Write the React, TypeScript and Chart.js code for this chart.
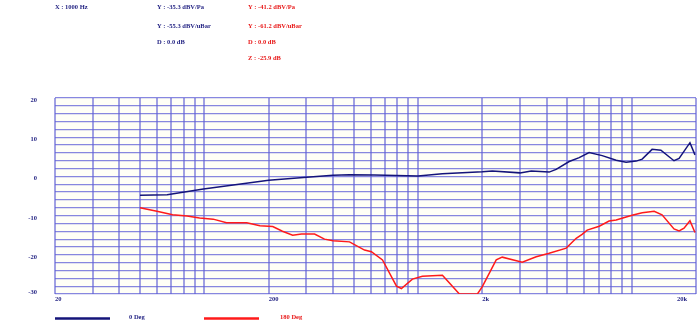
import { useEffect, useRef } from 'react';
import { Chart, registerables } from 'chart.js';

Chart.register(...registerables);

// ---- data ----
const freq0Deg = [50, 67, 99, 200, 301, 400, 478, 626, 1000, 1300, 2000, 2226, 3000, 3390, 4110, 4430, 5100, 5680, 6320, 7280, 8460, 9420, 10490, 11200, 12460, 13700, 15780, 16670, 18740, 19780];
const level0Deg = [-4.8, -4.7, -3.2, -1.0, -0.2, 0.3, 0.45, 0.35, 0.1, 0.7, 1.2, 1.4, 0.9, 1.4, 1.1, 1.8, 3.8, 4.8, 6.1, 5.3, 4.1, 3.6, 3.9, 4.4, 6.9, 6.7, 4.0, 4.6, 8.6, 5.5];

const freq180Deg = [50, 54, 60, 71, 83, 95, 110, 127, 158, 182, 209, 232, 259, 285, 328, 365, 400, 478, 562, 605, 682, 793, 836, 941, 1048, 1301, 1562, 1897, 2000, 2323, 2478, 3075, 3574, 4110, 4940, 5500, 5860, 6190, 7050, 7840, 8460, 10040, 11200, 12740, 13870, 15780, 16670, 17580, 18740, 19780];
const level180Deg = [-8.0, -8.4, -8.9, -9.8, -10.1, -10.6, -10.9, -11.8, -11.8, -12.6, -12.8, -14.0, -15.0, -14.7, -14.7, -16.0, -16.4, -16.7, -18.8, -19.2, -21.3, -28.0, -28.6, -26.2, -25.5, -25.2, -30, -30, -28.1, -21.3, -20.6, -21.9, -20.5, -19.6, -18.3, -15.8, -14.8, -13.7, -12.7, -11.4, -11.1, -9.9, -9.3, -8.9, -9.8, -13.4, -13.9, -13.2, -11.3, -14.3];

const xGridValues = [20, 30, 40, 50, 60, 70, 80, 90, 100, 200, 300, 400, 500, 600, 700, 800, 900, 1000, 2000, 3000, 4000, 5000, 6000, 7000, 8000, 9000, 10000, 20000];
const xTickValues = [20, 200, 2000, 20000];
const xTickLabels = ['20', '200', '2k', '20k'];
const yTickValues = [20, 10, 0, -10, -20, -30];

const seriesNames = ['0 Deg', '180 Deg'];
const readoutX = 'X : 1000 Hz';
const readout0Deg = ['Y : -35.3 dBV/Pa', 'Y : -55.3 dBV/uBar', 'D : 0.0 dB'];
const readout180Deg = ['Y : -41.2 dBV/Pa', 'Y : -61.2 dBV/uBar', 'D : 0.0 dB', 'Z : -25.9 dB'];

// ---- styles ----
const NAVY = '#14147a';
const RED = '#ff1a1a';
const TEXT_BLUE = '#1e1e80';
const TEXT_RED = '#e81818';
const FONT = 'bold 6.5px "Liberation Serif", "DejaVu Serif", serif';

const overlayPlugin = {
  id: 'overlay',
  beforeDraw(chart: any) {
    const { ctx, chartArea: a } = chart;
    ctx.save();
    ctx.fillStyle = '#fffff6';
    ctx.fillRect(a.left, a.top, a.right - a.left, a.bottom - a.top);
    ctx.restore();
  },
  afterDraw(chart: any) {
    const { ctx, chartArea: a } = chart;
    const xs = chart.scales.x;
    const ys = chart.scales.y;
    ctx.save();
    ctx.font = FONT;
    ctx.textBaseline = 'middle';

    // y labels
    ctx.fillStyle = TEXT_BLUE;
    ctx.textAlign = 'right';
    yTickValues.forEach((v) => {
      let y = ys.getPixelForValue(v);
      y += v === ys.min ? -2 : 2.3;
      ctx.fillText(String(v), a.left - 18, y);
    });

    // x labels
    ctx.textAlign = 'left';
    xTickValues.forEach((v, i) => {
      const label = xTickLabels[i];
      let x = xs.getPixelForValue(v);
      const w = ctx.measureText(label).width;
      if (i === xTickValues.length - 1) x = a.right - w - 9;
      ctx.fillText(label, x, a.bottom + 5);
    });

    // readouts
    ctx.fillStyle = TEXT_BLUE;
    ctx.fillText(readoutX, 55, 7);
    const rowsY = [7, 26, 42.5, 58.5];
    readout0Deg.forEach((t, i) => ctx.fillText(t, 157, rowsY[i]));
    ctx.fillStyle = TEXT_RED;
    readout180Deg.forEach((t, i) => ctx.fillText(t, 248, rowsY[i]));

    // legend
    const ly = 318.5;
    ctx.lineWidth = 2.5;
    ctx.strokeStyle = NAVY;
    ctx.beginPath();
    ctx.moveTo(55, ly);
    ctx.lineTo(110, ly);
    ctx.stroke();
    ctx.fillStyle = TEXT_BLUE;
    ctx.fillText(seriesNames[0], 129, ly - 1);
    ctx.strokeStyle = RED;
    ctx.beginPath();
    ctx.moveTo(204, ly);
    ctx.lineTo(259, ly);
    ctx.stroke();
    ctx.fillStyle = TEXT_RED;
    ctx.fillText(seriesNames[1], 280, ly - 1);
    ctx.restore();
  },
};

export default function App() {
  const canvasRef = useRef<HTMLCanvasElement | null>(null);

  useEffect(() => {
    if (!canvasRef.current) return;
    const chart = new Chart(canvasRef.current, {
      type: 'line',
      data: {
        datasets: [
          {
            label: seriesNames[0],
            data: freq0Deg.map((f, i) => ({ x: f, y: level0Deg[i] })),
            borderColor: NAVY,
            borderWidth: 1.5,
            pointRadius: 0,
            tension: 0,
            fill: false,
          },
          {
            label: seriesNames[1],
            data: freq180Deg.map((f, i) => ({ x: f, y: level180Deg[i] })),
            borderColor: RED,
            borderWidth: 1.5,
            pointRadius: 0,
            tension: 0,
            fill: false,
          },
        ],
      },
      options: {
        responsive: false,
        animation: false,
        layout: { padding: { left: 55, top: 98, right: 4, bottom: 39 } },
        plugins: { legend: { display: false }, tooltip: { enabled: false } },
        scales: {
          x: {
            type: 'logarithmic',
            min: 20,
            max: 20000,
            afterBuildTicks: (s: any) => {
              s.ticks = xGridValues.map((v) => ({ value: v }));
            },
            ticks: { display: false, autoSkip: false },
            grid: { color: 'rgba(110,110,215,0.65)', lineWidth: 2, drawTicks: false },
            border: { display: false },
          },
          y: {
            type: 'linear',
            min: -30,
            max: 20,
            ticks: { display: false, stepSize: 2 },
            grid: { color: 'rgba(95,95,215,0.75)', lineWidth: 1.2, drawTicks: false },
            border: { display: false },
          },
        },
      },
      plugins: [overlayPlugin],
    } as any);
    return () => chart.destroy();
  }, []);

  return (
    <div style={{ position: 'absolute', left: 0, top: 0, width: 700, height: 333, background: '#fff' }}>
      <canvas ref={canvasRef} width={700} height={333} style={{ display: 'block' }} />
    </div>
  );
}
